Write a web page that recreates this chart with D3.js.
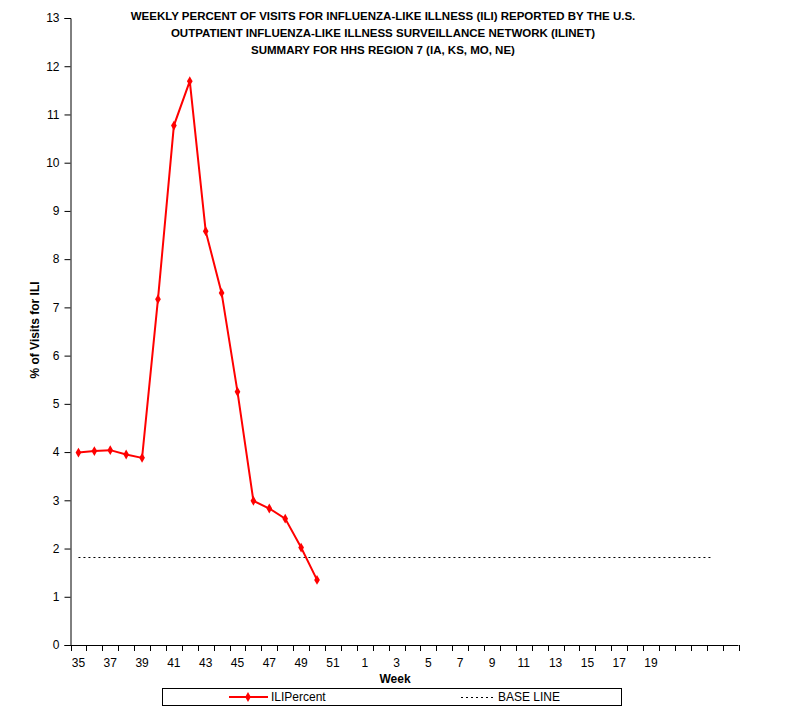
<!DOCTYPE html>
<html>
<head>
<meta charset="utf-8">
<script src="https://cdn.jsdelivr.net/npm/d3@7"></script>
<style>
body { margin: 0; background: #fff; }
text { font-family: "Liberation Sans", Arial, sans-serif; }
</style>
</head>
<body>
<script>
// week categories on the x axis (blank ones at the end)
const weeks = [35, 36, 37, 38, 39, 40, 41, 42, 43, 44, 45, 46, 47, 48, 49, 50, 51, 52,
  1, 2, 3, 4, 5, 6, 7, 8, 9, 10, 11, 12, 13, 14, 15, 16, 17, 18, 19, 20, "", "", "", ""];
const iliWeeks = [35, 36, 37, 38, 39, 40, 41, 42, 43, 44, 45, 46, 47, 48, 49, 50];
const iliPercent = [3.99, 4.02, 4.04, 3.95, 3.88, 7.17, 10.77, 11.69, 8.58, 7.30, 5.25, 2.99, 2.83, 2.62, 2.02, 1.35];
const baseLine = 1.82;
const baseLineSpan = 41; // categories covered by the base line
const yTicks = d3.range(0, 14);
const titleLines = [
  "WEEKLY PERCENT OF VISITS FOR INFLUENZA-LIKE ILLNESS (ILI) REPORTED BY THE U.S.",
  "OUTPATIENT INFLUENZA-LIKE ILLNESS SURVEILLANCE NETWORK (ILINET)",
  "SUMMARY FOR HHS REGION 7 (IA, KS, MO, NE)"
];

const svg = d3.select("body").append("svg").attr("width", 801).attr("height", 715);

const x = d3.scaleBand().domain(d3.range(weeks.length)).range([70.5, 738.5]).padding(0);
const y = d3.scaleLinear().domain([0, 13]).range([645, 18]);
const cx = i => x(i) + x.bandwidth() / 2;

// title
svg.append("g").selectAll("text").data(titleLines).enter().append("text")
  .attr("x", 383).attr("y", (d, i) => 20 + i * 17)
  .attr("text-anchor", "middle")
  .style("font-size", "11.5px").style("font-weight", "bold")
  .text(d => d);

// y axis
const yAxis = svg.append("g").attr("transform", "translate(70.5,0)")
  .call(d3.axisLeft(y).tickValues(yTicks).tickSize(6).tickPadding(5).tickFormat(d3.format("d")));
yAxis.select(".domain").attr("stroke", "#000");
yAxis.selectAll("text").style("font-size", "12px").style("font-family", "Liberation Sans, Arial, sans-serif");

// x axis: ticks on category boundaries
const xg = svg.append("g");
xg.append("line").attr("x1", 70.5).attr("x2", 738.5).attr("y1", 645.5).attr("y2", 645.5).attr("stroke", "#000");
xg.selectAll("line.tk").data(d3.range(weeks.length + 1)).enter().append("line").attr("class", "tk")
  .attr("x1", i => Math.round(i < weeks.length ? x(i) : x(i - 1) + x.bandwidth()) + 0.5)
  .attr("x2", i => Math.round(i < weeks.length ? x(i) : x(i - 1) + x.bandwidth()) + 0.5)
  .attr("y1", 645).attr("y2", 651).attr("stroke", "#000");
xg.selectAll("text").data(weeks.map((w, i) => ({ w, i })).filter(d => d.i % 2 === 0)).enter().append("text")
  .attr("x", d => cx(d.i)).attr("y", 667)
  .attr("text-anchor", "middle").style("font-size", "12px")
  .text(d => d.w);

// axis titles
svg.append("text").attr("x", 395).attr("y", 683).attr("text-anchor", "middle")
  .style("font-size", "12px").style("font-weight", "bold").text("Week");
svg.append("text").attr("transform", "translate(39,330) rotate(-90)").attr("text-anchor", "middle")
  .style("font-size", "12px").style("font-weight", "bold").text("% of Visits for ILI");

// base line
svg.append("line")
  .attr("x1", cx(0)).attr("x2", cx(baseLineSpan - 1) - 4)
  .attr("y1", Math.round(y(baseLine)) + 0.5).attr("y2", Math.round(y(baseLine)) + 0.5)
  .attr("stroke", "#000").attr("stroke-width", 1).attr("stroke-dasharray", "2,3");

// ILI series
const ili = iliWeeks.map((w, k) => ({ i: weeks.indexOf(w), v: iliPercent[k] }));
svg.append("path").datum(ili)
  .attr("d", d3.line().x(d => cx(d.i)).y(d => y(d.v)))
  .attr("fill", "none").attr("stroke", "#ff0000").attr("stroke-width", 2);
svg.selectAll("path.mk").data(ili).enter().append("path").attr("class", "mk")
  .attr("transform", d => `translate(${cx(d.i)},${y(d.v)})`)
  .attr("d", d3.symbol().type(d3.symbolDiamond).size(28))
  .attr("fill", "#ff0000");

// legend
const lg = svg.append("g");
lg.append("rect").attr("x", 162.5).attr("y", 688.5).attr("width", 459).attr("height", 17)
  .attr("fill", "#fff").attr("stroke", "#000");
lg.append("line").attr("x1", 229).attr("x2", 268).attr("y1", 697).attr("y2", 697)
  .attr("stroke", "#ff0000").attr("stroke-width", 2);
lg.append("path").attr("transform", "translate(248,697)")
  .attr("d", d3.symbol().type(d3.symbolDiamond).size(28)).attr("fill", "#ff0000");
lg.append("text").attr("x", 271).attr("y", 701).style("font-size", "12px").text("ILIPercent");
lg.append("line").attr("x1", 461).attr("x2", 495).attr("y1", 697.5).attr("y2", 697.5)
  .attr("stroke", "#000").attr("stroke-dasharray", "2,3");
lg.append("text").attr("x", 498).attr("y", 701).style("font-size", "12px").text("BASE LINE");
</script>
</body>
</html>
